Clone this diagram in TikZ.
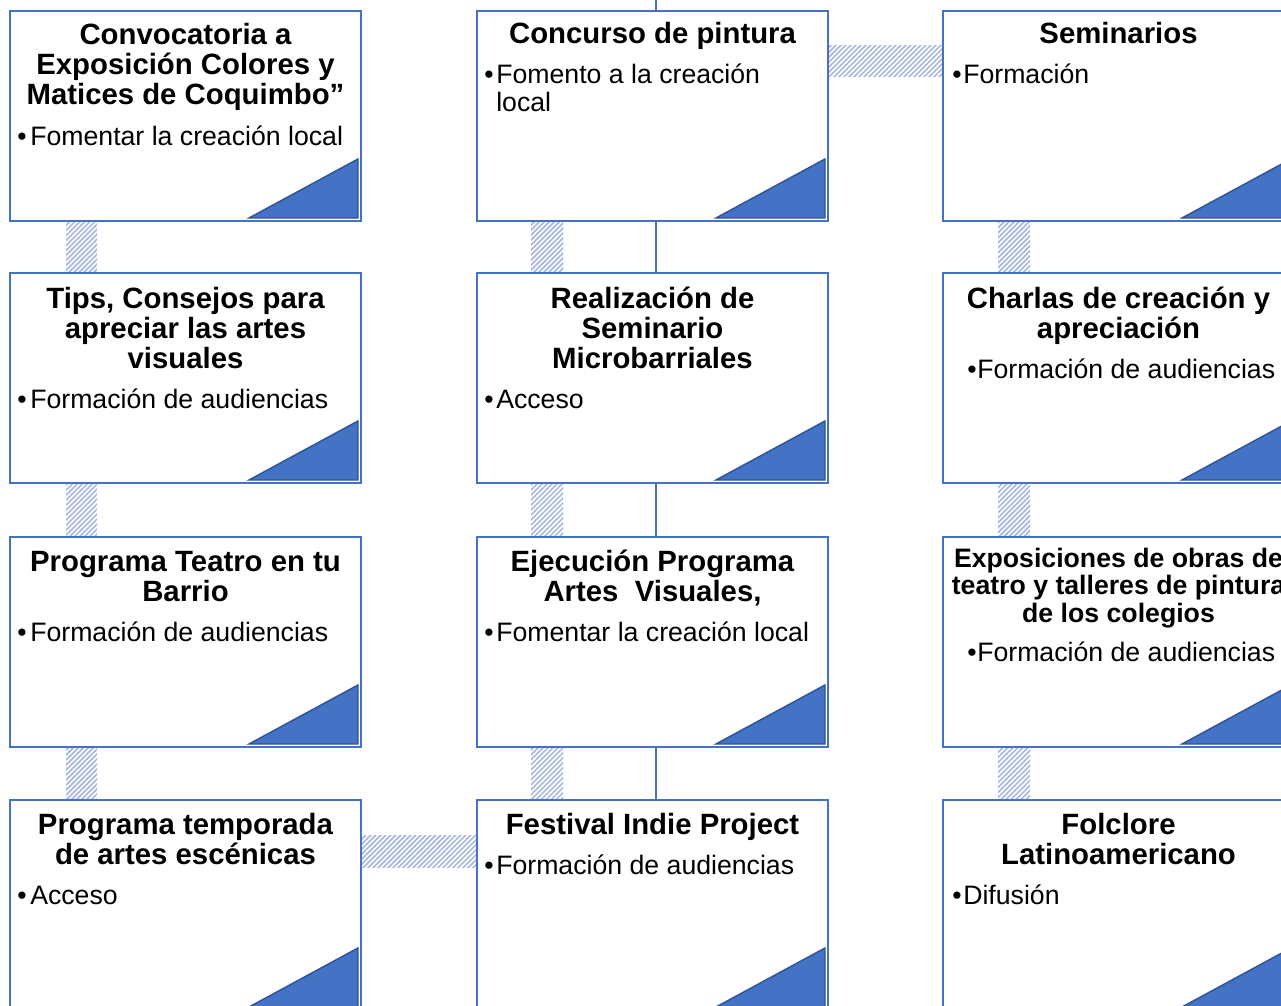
\documentclass[tikz,border=0pt]{standalone}
\usepackage{fontspec}
\setmainfont{Liberation Sans}
\usetikzlibrary{calc,patterns.meta}
\definecolor{bordblue}{HTML}{4472C4}
\definecolor{tridark}{HTML}{2F5597}
\definecolor{hatchblue}{HTML}{A8B7E0}
\pgfdeclarelayer{bg}
\pgfsetlayers{bg,main}
\tikzset{
 card/.style={draw=bordblue, line width=1.9pt, fill=white, rectangle, minimum width=263.25pt, minimum height=157.5pt, inner sep=0pt, outer sep=0pt, anchor=north west},
 corner/.style={fill=bordblue, draw=tridark, line width=1.1pt, line join=miter},
 ttl/.style={font=\fontsize{22}{22.5}\selectfont\bfseries, align=center, anchor=base, inner sep=0pt},
 ttlsm/.style={font=\fontsize{20}{20.6}\selectfont\bfseries, align=center, anchor=base, inner sep=0pt},
 bul/.style={font=\fontsize{20}{21}\selectfont, anchor=base, inner sep=0pt},
 bodytxt/.style={font=\fontsize{20}{21}\selectfont, anchor=base west, inner sep=0pt, align=left},
 spine/.style={draw=bordblue, line width=1.1pt},
 hatch/.style={pattern={Lines[angle=45, distance=2.65pt, line width=1.25pt]}, pattern color=hatchblue},
}
\newcommand\cornertri[1]{\draw[corner] ($(#1.south east)+(-3,-3)$) -- ($(#1.south east)+(-3,-62)$) -- ($(#1.south east)+(-112,-3)$) -- cycle;}
\begin{document}
\begin{tikzpicture}[x=0.75pt,y=-0.75pt]
\useasboundingbox (0,0) rectangle (1281,1006);
\clip (0,0) rectangle (1281,1006);
% boxes
\node[card] (L1) at (10,11) {};
\node[card] (M1) at (477,11) {};
\node[card] (R1) at (943,11) {};
\node[card] (L2) at (10,273) {};
\node[card] (M2) at (477,273) {};
\node[card] (R2) at (943,273) {};
\node[card] (L3) at (10,537) {};
\node[card] (M3) at (477,537) {};
\node[card] (R3) at (943,537) {};
\node[card] (L4) at (10,800) {};
\node[card] (M4) at (477,800) {};
\node[card] (R4) at (943,800) {};
\coordinate (spinetop) at (656,0);
\coordinate (spinebot) at (656,1006);
\begin{pgfonlayer}{bg}
 \draw[spine] (spinetop) -- (spinebot);
 % vertical connectors
 \fill[hatch] ($(L1.south west)+(56,0)$) rectangle ($(L2.north west)+(87,0)$);
 \fill[hatch] ($(L2.south west)+(56,0)$) rectangle ($(L3.north west)+(87,0)$);
 \fill[hatch] ($(L3.south west)+(56,0)$) rectangle ($(L4.north west)+(87,0)$);
 \fill[hatch] ($(M1.south west)+(54,0)$) rectangle ($(M2.north west)+(86,0)$);
 \fill[hatch] ($(M2.south west)+(54,0)$) rectangle ($(M3.north west)+(86,0)$);
 \fill[hatch] ($(M3.south west)+(54,0)$) rectangle ($(M4.north west)+(86,0)$);
 \fill[hatch] ($(R1.south west)+(55,0)$) rectangle ($(R2.north west)+(87,0)$);
 \fill[hatch] ($(R2.south west)+(55,0)$) rectangle ($(R3.north west)+(87,0)$);
 \fill[hatch] ($(R3.south west)+(55,0)$) rectangle ($(R4.north west)+(87,0)$);
 % horizontal connectors
 \fill[hatch] ($(M1.north east)+(0,35)$) rectangle ($(R1.north west)+(0,66)$);
 \fill[hatch] ($(L4.north east)+(0,35)$) rectangle ($(M4.north west)+(0,67)$);
\end{pgfonlayer}
% corner triangles
\cornertri{L1}\cornertri{M1}\cornertri{R1}
\cornertri{L2}\cornertri{M2}\cornertri{R2}
\cornertri{L3}\cornertri{M3}\cornertri{R3}
\cornertri{L4}\cornertri{M4}\cornertri{R4}
% titles (anchor = baseline of the last line)
\node[ttl] (tL1) at (185.5,104) {Convocatoria a\\Exposición Colores y\\Matices de Coquimbo”};
\node[ttl] (tM1) at (652.5,44) {Concurso de pintura};
\node[ttl] (tR1) at (1118.5,44) {Seminarios};
\node[ttl] (tL2) at (185.5,368) {Tips, Consejos para\\apreciar las artes\\visuales};
\node[ttl] (tM2) at (652.5,368) {Realización de\\Seminario\\Microbarriales};
\node[ttl] (tR2) at (1118.5,338) {Charlas de creación y\\apreciación};
\node[ttl] (tL3) at (185.5,601) {Programa Teatro en tu\\Barrio};
\node[ttl] (tM3) at (652.5,601) {Ejecución Programa\\Artes\ \ Visuales,};
\node[ttlsm] (tR3) at (1118.5,622) {Exposiciones de obras de\\teatro y talleres de pintura\\de los colegios};
\node[ttl] (tL4) at (185.5,864) {Programa temporada\\de artes escénicas};
\node[ttl] (tM4) at (652.5,834) {Festival Indie Project};
\node[ttl] (tR4) at (1118.5,864) {Folclore\\Latinoamericano};
% bullets and body texts
\node[bul] (bL1) at (22,145) {•};
\node[bodytxt] (xL1) at (30,145) {Fomentar la creación local};
\node[bul] (bM1) at (489,84) {•};
\node[bodytxt] (xM1) at (496,112) {Fomento a la creación\\local};
\node[bul] (bR1) at (957,84) {•};
\node[bodytxt] (xR1) at (963,84) {Formación};
\node[bul] (bL2) at (22,408) {•};
\node[bodytxt] (xL2) at (30,408) {Formación de audiencias};
\node[bul] (bM2) at (489,408) {•};
\node[bodytxt] (xM2) at (496,408) {Acceso};
\node[bul] (bR2) at (972,378) {•};
\node[bodytxt] (xR2) at (977,378) {Formación de audiencias};
\node[bul] (bL3) at (22,641) {•};
\node[bodytxt] (xL3) at (30,641) {Formación de audiencias};
\node[bul] (bM3) at (489,641) {•};
\node[bodytxt] (xM3) at (496,641) {Fomentar la creación local};
\node[bul] (bR3) at (972,661) {•};
\node[bodytxt] (xR3) at (977,661) {Formación de audiencias};
\node[bul] (bL4) at (22,904) {•};
\node[bodytxt] (xL4) at (30,904) {Acceso};
\node[bul] (bM4) at (489,874) {•};
\node[bodytxt] (xM4) at (496,874) {Formación de audiencias};
\node[bul] (bR4) at (957,904) {•};
\node[bodytxt] (xR4) at (963,904) {Difusión};
\end{tikzpicture}
\end{document}
